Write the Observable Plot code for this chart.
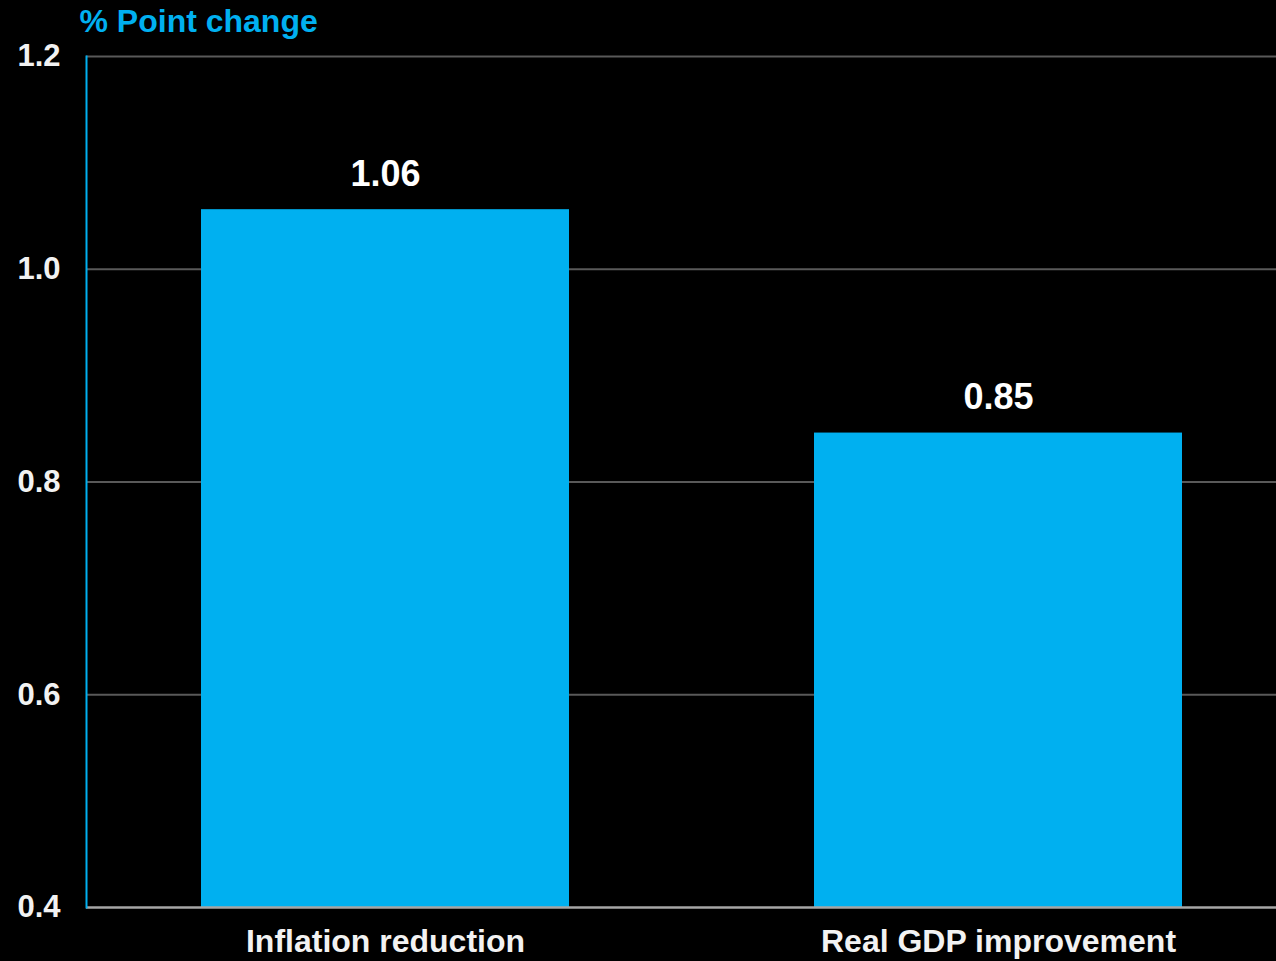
<!DOCTYPE html>
<html>
<head>
<meta charset="utf-8">
<script src="https://cdn.jsdelivr.net/npm/d3@7"></script>
<script src="https://cdn.jsdelivr.net/npm/@observablehq/plot@0.6"></script>
<style>
  html, body { margin: 0; padding: 0; background: #000; }
  #chart { width: 1276px; height: 961px; overflow: hidden; }
  svg { display: block; }
</style>
</head>
<body>
<div id="chart"></div>
<script>
const title = "% Point change";
const categories = ["Inflation reduction", "Real GDP improvement"];
const values = [1.056, 0.846];
const yTicks = [0.4, 0.6, 0.8, 1.0, 1.2];
const gridTicks = [0.6, 0.8, 1.0, 1.2];

const data = categories.map((c, i) => ({category: c, value: values[i]}));

const FONT = "'Liberation Sans', Arial, sans-serif";

const chart = Plot.plot({
  width: 1276,
  height: 961,
  marginTop: 56,
  marginBottom: 54,
  marginLeft: 86,
  marginRight: 0,
  style: {background: "#000", fontFamily: FONT, color: "#f2f2f2"},
  x: {domain: categories, range: [86, 1296], paddingInner: 0.4, paddingOuter: 0.186, label: null},
  y: {domain: [0.4, 1.2], clamp: true, label: null},
  marks: [
    Plot.ruleY(gridTicks, {stroke: "#595959", strokeWidth: 2}),
    Plot.barY(data, {x: "category", y: "value", fill: "#00b0f0"}),
    Plot.ruleY([yTicks[0]], {stroke: "#a6a6a6", strokeWidth: 2.5}),
    Plot.frame({anchor: "left", stroke: "#00b0f0", strokeWidth: 2}),
    Plot.axisY({ticks: yTicks, tickSize: 0, tickPadding: 26, tickFormat: d3.format(".1f"),
      fontSize: 31, fontWeight: "bold", fill: "#f2f2f2", label: null, dy: 0}),
    Plot.axisX({tickSize: 0, tickPadding: 22, fontSize: 32, fontWeight: "bold", fill: "#f2f2f2", label: null}),
    Plot.text(data, {x: "category", y: "value", text: d => d3.format(".2f")(d.value),
      lineAnchor: "bottom", dy: -24, fontSize: 36, fontWeight: "bold", fill: "#ffffff"}),
    Plot.text([title], {frameAnchor: "top-left", dx: -7, dy: -47, lineAnchor: "top", textAnchor: "start",
      fontSize: 32, fontWeight: "bold", fill: "#00b0f0"})
  ]
});
document.getElementById("chart").appendChild(chart);
</script>
</body>
</html>
